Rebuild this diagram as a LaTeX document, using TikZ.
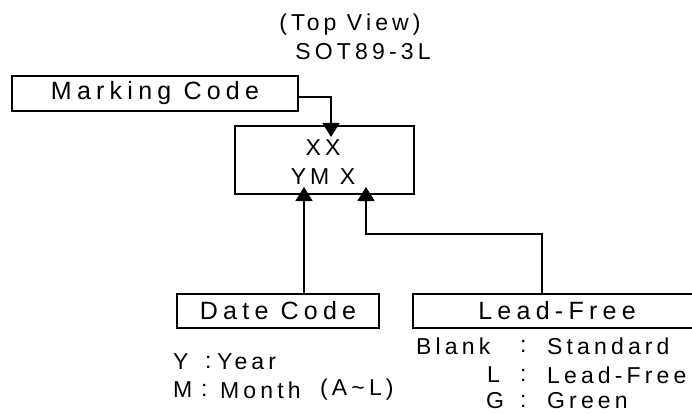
\documentclass[tikz,border=0pt]{standalone}
\usepackage{fontspec}
\setmainfont{Liberation Sans}[LetterSpace=18]
\newfontfamily\bigfam{Liberation Sans}[LetterSpace=21]
\usetikzlibrary{arrows.meta}
\tikzset{
  box/.style={draw, line width=1.6pt, rectangle, inner sep=0pt},
  arr/.style={line width=1.6pt, -{Triangle[length=14pt,width=17pt]}},
  big/.style={font=\bigfam\fontsize{25}{29}\selectfont},
  mid/.style={font=\fontsize{23}{27}\selectfont, inner sep=0pt},
  lbl/.style={mid, anchor=west},
}
\begin{document}
\begin{tikzpicture}[x=1pt,y=-1pt]
\useasboundingbox (0,0) rectangle (692,414);
\clip (0,0) rectangle (692,414);
% titles
\node[mid] (tv) at (350,25) {(Top View)};
\node[mid] (sot) at (363,52) {SOT89-3L};
% boxes
\node[box,big,minimum width=286pt,minimum height=35pt] (mark) at (155,93.5) {Marking Code};
\node[box,minimum width=179pt,minimum height=68pt] (chip) at (324.5,160) {};
\node[mid] (xx) at (323,148) {XX};
\node[mid] (ymx) at (323,177) {YM X};
\node[box,big,minimum width=202pt,minimum height=34pt] (date) at (278,311) {Date Code};
\node[box,big,minimum width=288pt,minimum height=34pt] (lead) at (557,311) {Lead-Free};
% date legend
\node[lbl] (yk) at (173,362) {Y};
\node[lbl] (yc) at (205,362) {:};
\node[lbl] (yv) at (217,362) {Year};
\node[lbl] (mk) at (173,390) {M};
\node[lbl] (mc) at (201,390) {:};
\node[lbl] (mv) at (220,390) {Month};
\node[lbl] (mr) at (320,390) {(A\textasciitilde L)};
% lead-free legend
\node[lbl] (bk) at (416,346) {Blank};
\node[lbl] (bc) at (520,346) {:};
\node[lbl] (bv) at (547,346) {Standard};
\node[lbl] (lk) at (487,375) {L};
\node[lbl] (lc) at (520,375) {:};
\node[lbl] (lv) at (547,375) {Lead-Free};
\node[lbl] (gk) at (486,401) {G};
\node[lbl] (gc) at (520,401) {:};
\node[lbl] (gv) at (547,401) {Green};
% connector coordinates
\coordinate (mt) at (331,137);
\coordinate (ym) at (304,187);
\coordinate (xt) at (366,187);
\coordinate (lf) at (542,294);
\coordinate (bend) at (0,234);
% connectors
\draw[arr] ([yshift=-3.5pt]mark.east) -| (mt);
\draw[arr] (ym |- date.north) -- (ym);
\draw[arr] (lf |- lead.north) -- (lf |- bend) -| (xt);
\end{tikzpicture}
\end{document}
